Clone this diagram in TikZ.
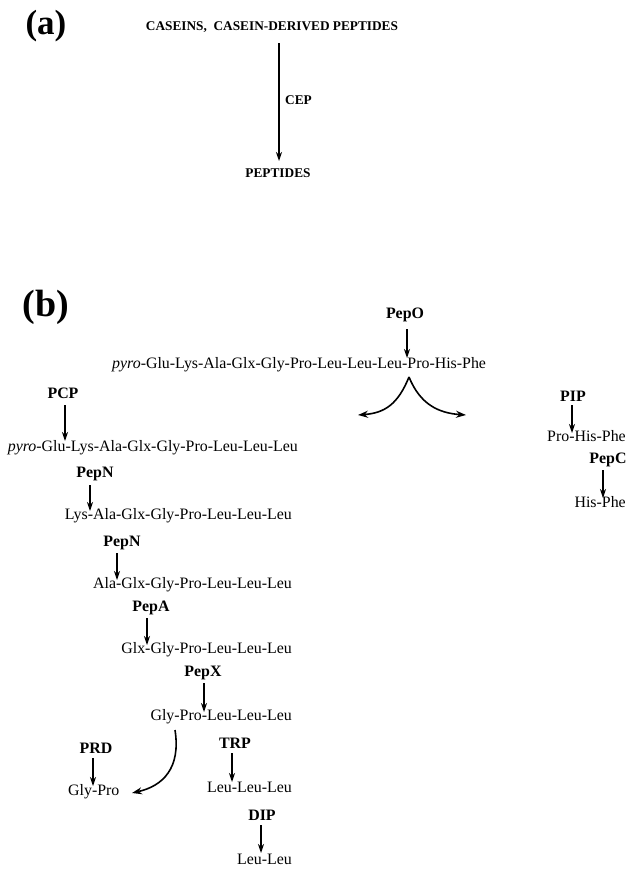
\documentclass[tikz,border=0pt]{standalone}
\usepackage{fontspec}
\setmainfont{Liberation Serif}
\usetikzlibrary{arrows.meta}
\begin{document}
\begin{tikzpicture}[x=1pt,y=-1pt,
  lbl/.style={font=\fontsize{15.9}{18}\selectfont\bfseries, inner sep=0pt},
  pep/.style={font=\fontsize{15.9}{18}\selectfont, inner sep=0pt},
  lbla/.style={font=\fontsize{13.3}{16}\selectfont\bfseries, inner sep=0pt},
  panel/.style={font=\fontsize{38}{42}\selectfont\bfseries, inner sep=0pt},
  arr/.style={-{Stealth[length=9pt,width=6pt]}, line width=1.2pt},
  carr/.style={-{Stealth[length=10pt,width=7pt]}, line width=1.6pt},
]
\useasboundingbox[fill=white] (0,0) rectangle (627,870);

% ---------- panel (a)
\node[panel, font=\fontsize{35}{40}\selectfont\bfseries] (pa) at (46,26) {(a)};
\node[lbla] (casein) at (272,27) {CASEINS,\ \ CASEIN-DERIVED PEPTIDES};
\node[lbla, anchor=west] (cep) at (285,100) {CEP};
\node[lbla] (peptides) at (278,173) {PEPTIDES};
\coordinate (cepS) at (279,43);
\coordinate (cepE) at (279,161);
\draw[arr] (cepS) -- (cepE);

% ---------- panel (b)
\node[panel] (pb) at (46,307) {(b)};

% PepO
\node[lbl] (pepo) at (405,315) {PepO};
\node[pep, anchor=west] (main) at (112,365) {\textit{pyro}-Glu-Lys-Ala-Glx-Gly-Pro-Leu-Leu-Leu-Pro-His-Phe};
\coordinate (poS) at (407,329);
\coordinate (poE) at (407,358);
\draw[arr] (poS) -- (poE);
\coordinate (apex) at (409,377);
\coordinate (spL) at (358,415);
\coordinate (spR) at (466,415);
\draw[carr] (apex) .. controls (398,404) and (385,413) .. (spL);
\draw[carr] (apex) .. controls (420,404) and (438,413) .. (spR);

% PIP / PepC
\node[lbl] (pip) at (573,396) {PIP};
\node[pep, anchor=east] (phf) at (626,436) {Pro-His-Phe};
\coordinate (pipS) at (572,405);
\coordinate (pipE) at (572,433);
\draw[arr] (pipS) -- (pipE);
\node[lbl] (pepc) at (608,460) {PepC};
\node[pep, anchor=east] (hf) at (626,502) {His-Phe};
\coordinate (pcS) at (603,470);
\coordinate (pcE) at (603,498);
\draw[arr] (pcS) -- (pcE);

% PCP
\node[lbl] (pcp) at (63,393) {PCP};
\node[pep, anchor=east] (l1) at (298,448) {\textit{pyro}-Glu-Lys-Ala-Glx-Gly-Pro-Leu-Leu-Leu};
\coordinate (pcpS) at (65,405);
\coordinate (pcpE) at (65,441);
\draw[arr] (pcpS) -- (pcpE);

% PepN 1
\node[lbl] (pepn1) at (95,474) {PepN};
\node[pep, anchor=east] (l2) at (292,516) {Lys-Ala-Glx-Gly-Pro-Leu-Leu-Leu};
\coordinate (n1S) at (90,485);
\coordinate (n1E) at (90,511);
\draw[arr] (n1S) -- (n1E);

% PepN 2
\node[lbl] (pepn2) at (122,543) {PepN};
\node[pep, anchor=east] (l3) at (292,585) {Ala-Glx-Gly-Pro-Leu-Leu-Leu};
\coordinate (n2S) at (117,553);
\coordinate (n2E) at (117,580);
\draw[arr] (n2S) -- (n2E);

% PepA
\node[lbl] (pepa) at (151,608) {PepA};
\node[pep, anchor=east] (l4) at (292,650) {Glx-Gly-Pro-Leu-Leu-Leu};
\coordinate (aS) at (147,618);
\coordinate (aE) at (147,645);
\draw[arr] (aS) -- (aE);

% PepX
\node[lbl] (pepx) at (203,673) {PepX};
\node[pep, anchor=east] (l5) at (292,717) {Gly-Pro-Leu-Leu-Leu};
\coordinate (xS) at (204,683);
\coordinate (xE) at (204,712);
\draw[arr] (xS) -- (xE);
\coordinate (cvS) at (175,730);
\coordinate (cvE) at (132,793);
\draw[carr] (cvS) .. controls (181,768) and (163,786) .. (cvE);

% PRD
\node[lbl] (prd) at (96,748) {PRD};
\node[pep, anchor=west] (gp) at (68,792) {Gly-Pro};
\coordinate (prS) at (93,758);
\coordinate (prE) at (93,786);
\draw[arr] (prS) -- (prE);

% TRP
\node[lbl] (trp) at (235,743) {TRP};
\node[pep, anchor=east] (l6) at (292,787) {Leu-Leu-Leu};
\coordinate (tS) at (232,753);
\coordinate (tE) at (232,782);
\draw[arr] (tS) -- (tE);

% DIP
\node[lbl] (dip) at (262,815) {DIP};
\node[pep, anchor=east] (l7) at (292,859) {Leu-Leu};
\coordinate (dS) at (261,825);
\coordinate (dE) at (261,853);
\draw[arr] (dS) -- (dE);
\end{tikzpicture}
\end{document}
